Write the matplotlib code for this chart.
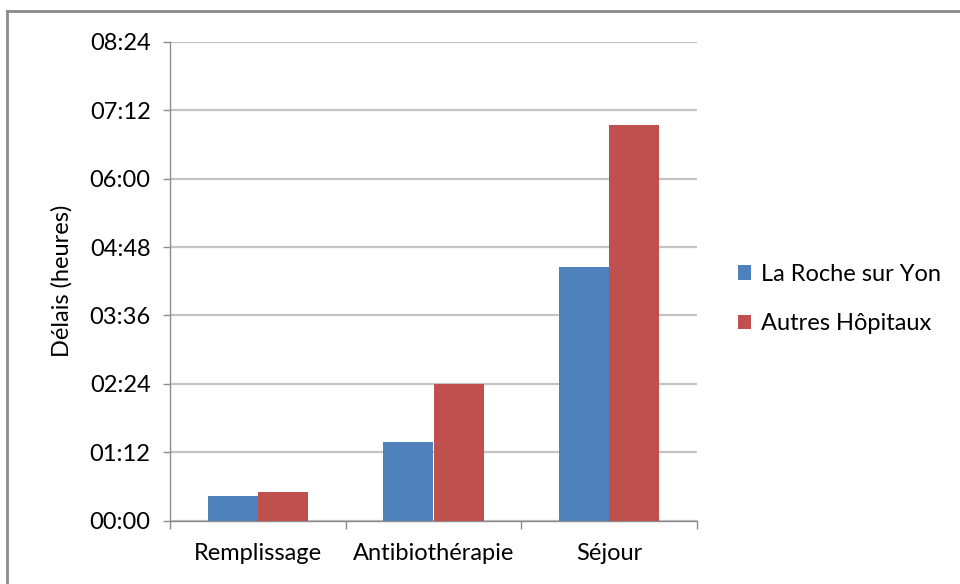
import matplotlib
matplotlib.use("Agg")
import matplotlib.pyplot as plt
from matplotlib.lines import Line2D
from matplotlib.ticker import FuncFormatter
import numpy as np

plt.rcParams["font.family"] = ["Lato", "DejaVu Sans"]

# Délais moyens en minutes
categories = ["Remplissage", "Antibiothérapie", "Séjour"]
la_roche = [26, 83, 267]
autres = [30, 144, 417]
series_names = ["La Roche sur Yon", "Autres Hôpitaux"]

BLUE = "#4F81BD"
RED = "#C0504D"
GRID = "#c3c3c3"
FS = 17

fig = plt.figure(figsize=(9.6, 5.84), dpi=100)
ax = fig.add_axes([170 / 960, 1 - 520.5 / 584, 527 / 960, 478.5 / 584])

x = np.arange(len(categories))
w = 1 / 3.5
ax.bar(x - w / 2, la_roche, width=w, color=BLUE, label=series_names[0], zorder=3)
ax.bar(x + w / 2, autres, width=w, color=RED, label=series_names[1], zorder=3)

# axe des y en hh:mm, pas de 72 minutes
ax.set_ylim(0, 504)
ax.set_yticks(np.arange(0, 505, 72))
ax.yaxis.set_major_formatter(FuncFormatter(lambda v, p: f"{int(v) // 60:02d}:{int(v) % 60:02d}"))
ax.yaxis.grid(True, color=GRID, linewidth=1.6, zorder=0)
ax.tick_params(axis="y", length=5, width=1, color="#8c8c8c", pad=9, labelsize=FS)

ax.set_xlim(-0.5, 2.5)
ax.set_xticks([-0.5, 0.5, 1.5, 2.5])
ax.set_xticklabels([])
ax.set_xticks(x, minor=True)
ax.set_xticklabels(categories, minor=True, fontsize=FS)
ax.tick_params(axis="x", which="major", length=6, width=1, color="#8c8c8c")
ax.tick_params(axis="x", which="minor", length=0, pad=16)

for s in ["top", "right"]:
    ax.spines[s].set_visible(False)
for s in ["left", "bottom"]:
    ax.spines[s].set_color("#8c8c8c")
    ax.spines[s].set_linewidth(1)

ax.set_ylabel("Délais (heures)", fontsize=FS, labelpad=12)

ax.legend(loc="center left", bbox_to_anchor=(1.037, 0.463), frameon=False,
          fontsize=FS, handlelength=0.55, handleheight=0.55, handletextpad=0.45,
          labelspacing=1.2)

# cadre du graphique
fig.add_artist(Line2D([7 / 960, 7 / 960], [0, 1 - 11 / 584], color="#8a8a8a", linewidth=2))
fig.add_artist(Line2D([7 / 960, 1], [1 - 11 / 584, 1 - 11 / 584], color="#8a8a8a", linewidth=2))

fig.savefig("out.png", dpi=100)
